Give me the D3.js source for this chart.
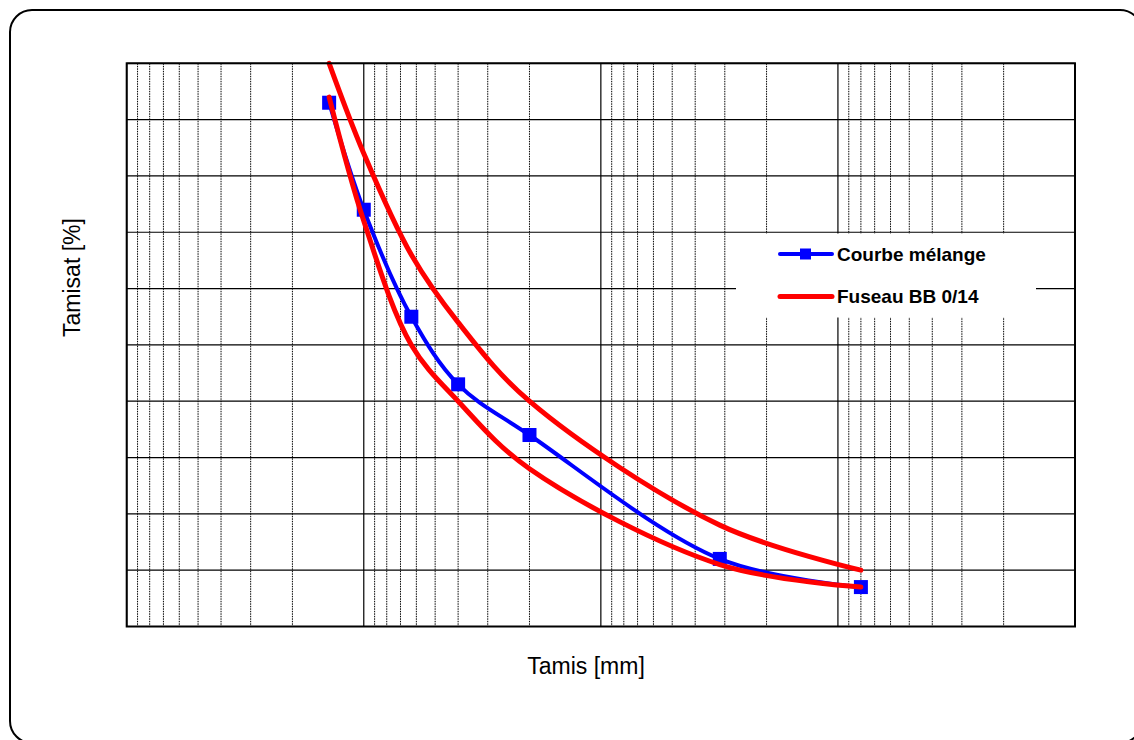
<!DOCTYPE html>
<html>
<head>
<meta charset="utf-8">
<script src="https://cdn.jsdelivr.net/npm/d3@7"></script>
<style>
  body { margin: 0; background: #fff; }
  svg { display: block; font-family: "Liberation Sans", Arial, sans-serif; }
</style>
</head>
<body>
<div id="chart"></div>
<script>
// sieve sizes (mm) and passing percentages
var sieves = [14, 10, 6.3, 4, 2, 0.315, 0.08];
var courbeMelange = [93, 74, 55, 43, 34, 12, 7];
var fuseauMin = [94, 72, 50, 40, 28, 11, 7];
var fuseauMax = [100, 84, 66, 54, 40, 18, 10];
var xDecades = [100, 10, 1, 0.1, 0.01];
var yTicks = [0, 10, 20, 30, 40, 50, 60, 70, 80, 90, 100];

var W = 1134, H = 740;
var plot = {left: 126.7, right: 1075, top: 63.3, bottom: 626.5};

var svg = d3.select("#chart").append("svg")
    .attr("width", W)
    .attr("height", H);

// outer frame
svg.append("rect")
    .attr("x", 10).attr("y", 10)
    .attr("width", 1132).attr("height", 733)
    .attr("rx", 22).attr("ry", 22)
    .attr("fill", "#fff")
    .attr("stroke", "#000")
    .attr("stroke-width", 2);

// x axis is reversed : big sieves on the left
var x = d3.scaleLog()
    .domain([100, 0.01])
    .range([plot.left, plot.right]);

var y = d3.scaleLinear()
    .domain([0, 100])
    .range([plot.bottom, plot.top]);

var grid = svg.append("g");

// minor vertical lines (dotted)
var minors = [];
xDecades.slice(1).forEach(function(d) {
    for (var k = 2; k <= 9; k++) minors.push(d * k);
});

grid.selectAll(".minor")
    .data(minors)
    .enter().append("line")
    .attr("class", "minor")
    .attr("x1", function(d) { return x(d); })
    .attr("x2", function(d) { return x(d); })
    .attr("y1", plot.top)
    .attr("y2", plot.bottom)
    .attr("stroke", "#000")
    .attr("stroke-width", 1)
    .attr("stroke-dasharray", "1.5,1");

// major vertical lines
grid.selectAll(".major")
    .data(xDecades)
    .enter().append("line")
    .attr("class", "major")
    .attr("x1", function(d) { return x(d); })
    .attr("x2", function(d) { return x(d); })
    .attr("y1", plot.top)
    .attr("y2", plot.bottom)
    .attr("stroke", "#000")
    .attr("stroke-width", 1.2);

// horizontal lines
grid.selectAll(".hline")
    .data(yTicks)
    .enter().append("line")
    .attr("class", "hline")
    .attr("x1", plot.left)
    .attr("x2", plot.right)
    .attr("y1", function(d) { return y(d); })
    .attr("y2", function(d) { return y(d); })
    .attr("stroke", "#000")
    .attr("stroke-width", 1.2);

// legend box hides the grid
var legend = svg.append("g");
legend.append("rect")
    .attr("x", 736).attr("y", 233.5)
    .attr("width", 300).attr("height", 84)
    .attr("fill", "#fff");

var line = d3.line()
    .x(function(d) { return x(d[0]); })
    .y(function(d) { return y(d[1]); })
    .curve(d3.curveCatmullRom.alpha(0.5));

var blueData = d3.zip(sieves, courbeMelange);

svg.append("path")
    .datum(blueData)
    .attr("d", line)
    .attr("fill", "none")
    .attr("stroke", "#0000ff")
    .attr("stroke-width", 4);

svg.selectAll(".pt")
    .data(blueData)
    .enter().append("rect")
    .attr("class", "pt")
    .attr("x", function(d) { return x(d[0]) - 7; })
    .attr("y", function(d) { return y(d[1]) - 7; })
    .attr("width", 14)
    .attr("height", 14)
    .attr("fill", "#0000ff");

[fuseauMin, fuseauMax].forEach(function(vals) {
    svg.append("path")
        .datum(d3.zip(sieves, vals))
        .attr("d", line)
        .attr("fill", "none")
        .attr("stroke", "#ff0000")
        .attr("stroke-width", 5)
        .attr("stroke-linecap", "round");
});

// plot border
svg.append("rect")
    .attr("x", plot.left).attr("y", plot.top)
    .attr("width", plot.right - plot.left)
    .attr("height", plot.bottom - plot.top)
    .attr("fill", "none")
    .attr("stroke", "#000")
    .attr("stroke-width", 2);

// legend entries
legend.append("line")
    .attr("x1", 780).attr("x2", 832)
    .attr("y1", 254).attr("y2", 254)
    .attr("stroke", "#0000ff").attr("stroke-width", 4)
    .attr("stroke-linecap", "round");
legend.append("rect")
    .attr("x", 800).attr("y", 248.5)
    .attr("width", 11).attr("height", 11)
    .attr("fill", "#0000ff");
legend.append("text")
    .attr("x", 837).attr("y", 260.5)
    .attr("font-size", 19).attr("font-weight", "bold")
    .text("Courbe mélange");

legend.append("line")
    .attr("x1", 780).attr("x2", 832)
    .attr("y1", 296.5).attr("y2", 296.5)
    .attr("stroke", "#ff0000").attr("stroke-width", 5)
    .attr("stroke-linecap", "round");
legend.append("text")
    .attr("x", 837).attr("y", 302.5)
    .attr("font-size", 19).attr("font-weight", "bold")
    .text("Fuseau BB 0/14");

// axis titles
svg.append("text")
    .attr("transform", "translate(79.5,277.5) rotate(-90)")
    .attr("text-anchor", "middle")
    .attr("font-size", 23)
    .text("Tamisat [%]");

svg.append("text")
    .attr("x", 586).attr("y", 673.5)
    .attr("text-anchor", "middle")
    .attr("font-size", 23)
    .text("Tamis [mm]");
</script>
</body>
</html>
